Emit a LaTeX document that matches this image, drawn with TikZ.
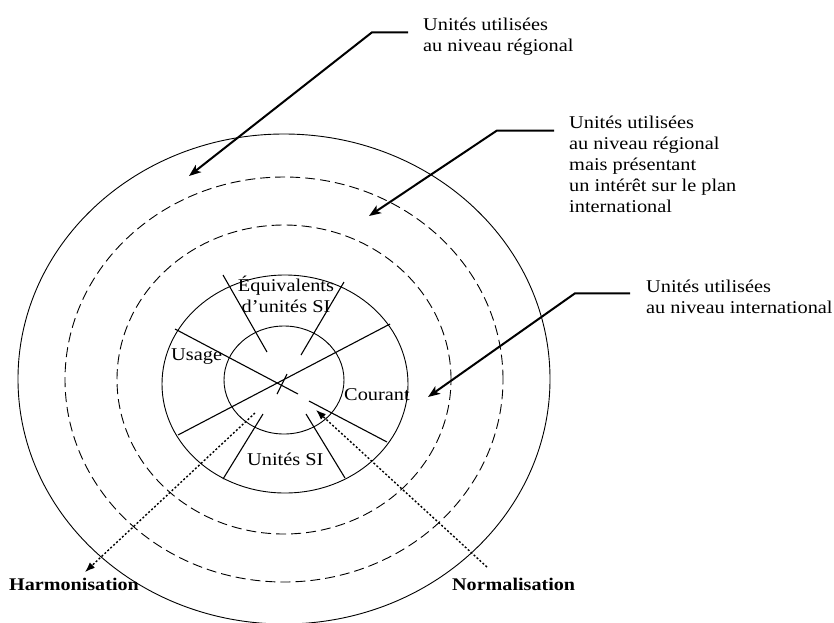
\documentclass[tikz,border=0pt]{standalone}
\usepackage{fontspec}
\setmainfont{Liberation Serif}[FakeStretch=1.13]
\usetikzlibrary{arrows.meta,shapes.geometric}
\begin{document}
\begin{tikzpicture}[x=1pt,y=-1pt,
  ring/.style={draw,ellipse,inner sep=0pt,outer sep=0pt,line width=0.9pt},
  dring/.style={ring,dash pattern=on 10pt off 5pt},
  spoke/.style={line width=1.1pt},
  callout/.style={line width=2pt,-{Stealth[length=12pt,width=9pt,inset=3pt]}},
  dotarrow/.style={line width=1.4pt,dash pattern=on 2pt off 2pt,-{Latex[length=10pt,width=7.5pt]}},
  lbl/.style={inner sep=0pt,font=\fontsize{18}{21}\selectfont},
  mlbl/.style={lbl,align=left,anchor=north west},
  slbl/.style={lbl,anchor=base west},
  blbl/.style={inner sep=0pt,font=\fontsize{17.8}{21}\selectfont\bfseries,anchor=base west}
]
\useasboundingbox (0,0) rectangle (834,622);

% rings
\node[ring, minimum width=532pt, minimum height=490pt] (outer) at (284,379) {};
\node[dring, minimum width=438pt, minimum height=405pt] (reg) at (284,379.5) {};
\node[dring, minimum width=334pt, minimum height=309pt] (inter) at (284,379.5) {};
\node[ring, minimum width=246pt, minimum height=218pt] (mid) at (285,384) {};
\node[ring, minimum width=120pt, minimum height=108pt] (core) at (284,380) {};

% crossing lines
\draw[spoke] (175,329) -- (298,394);
\draw[spoke] (309,401) -- (387,442);
\draw[spoke] (390,324) -- (178,435);
\draw[spoke] (277,394) -- (287,374);
% short spokes
\draw[spoke] (223,275) -- (267,352);
\draw[spoke] (344,282) -- (301,355);
\draw[spoke] (263,414) -- (223,479);
\draw[spoke] (306,414) -- (345,478);

% inner labels
\node[lbl,align=center,anchor=north] (equiv) at (286,275.5) {Équivalents\\d’unités SI};
\node[slbl] (usage) at (171,360) {Usage};
\node[slbl] (courant) at (344,400) {Courant};
\node[slbl] (unitesSI) at (247,465) {Unités SI};

% callout texts
\node[mlbl] (t1) at (423,17.7) {Unités utilisées\\au niveau régional};
\node[mlbl] (t2) at (569,115.7) {Unités utilisées\\au niveau régional\\mais présentant\\un intérêt sur le plan\\international};
\node[mlbl] (t3) at (646,279.7) {Unités utilisées\\au niveau international};

% callout arrows
\coordinate (a1s) at (408,32.3);
\coordinate (a1k) at (372,32.3);
\coordinate (a1e) at (189,176);
\coordinate (a2s) at (554,130.5);
\coordinate (a2k) at (497,130.5);
\coordinate (a2e) at (369,216);
\coordinate (a3s) at (630,293.3);
\coordinate (a3k) at (575,293.3);
\coordinate (a3e) at (428,397);
\draw[callout] (a1s) -- (a1k) -- (a1e);
\draw[callout] (a2s) -- (a2k) -- (a2e);
\draw[callout] (a3s) -- (a3k) -- (a3e);

% bottom labels
\node[blbl] (harm) at (9,590) {Harmonisation};
\node[blbl] (norm) at (452,590) {Normalisation};

% dotted arrows
\coordinate (h0) at (255,413);
\coordinate (h1) at (85,572);
\coordinate (n0) at (487,567);
\coordinate (n1) at (316,410);
\draw[dotarrow] (h0) -- (h1);
\draw[dotarrow] (n0) -- (n1);
\end{tikzpicture}
\end{document}
